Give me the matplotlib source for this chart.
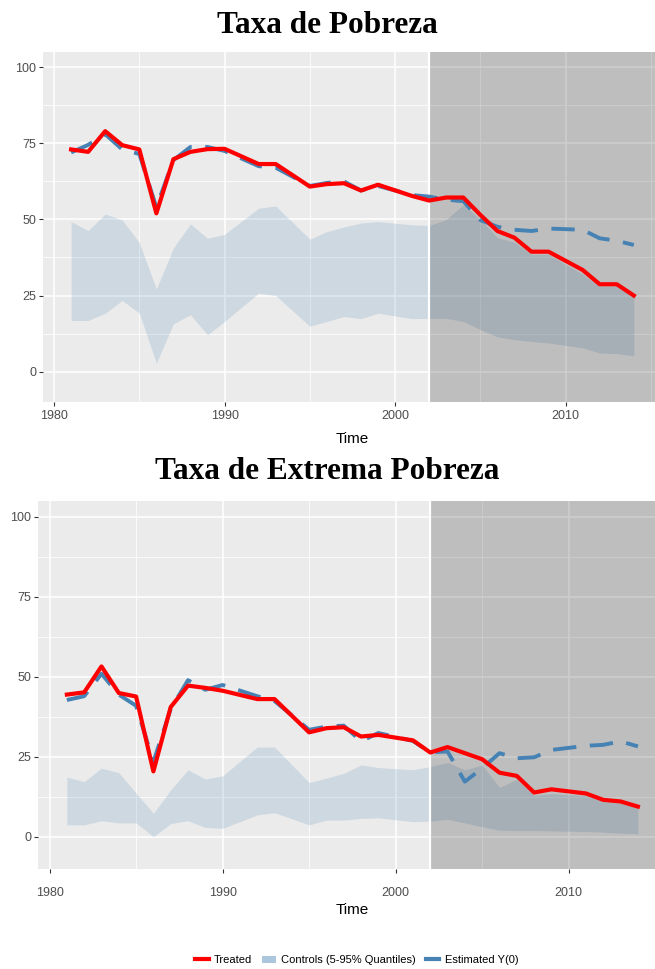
import numpy as np
import matplotlib
matplotlib.use('Agg')
import matplotlib.pyplot as plt
from matplotlib.lines import Line2D
from matplotlib.patches import Patch

plt.rcParams['font.family'] = ['Liberation Sans', 'DejaVu Sans']

# Anos (sem 1991, 1994, 2000 e 2010)
anos = [1981, 1982, 1983, 1984, 1985, 1986, 1987, 1988, 1989, 1990,
        1992, 1993, 1995, 1996, 1997, 1998, 1999,
        2001, 2002, 2003, 2004, 2005, 2006, 2007, 2008, 2009,
        2011, 2012, 2013, 2014]
ano_trat = 2002

# Taxa de Pobreza
pob_tratado = [73.0, 72.2, 79.0, 74.4, 73.0, 52.0, 69.8, 72.2, 73.1, 73.2,
               68.2, 68.2, 60.8, 61.6, 61.9, 59.5, 61.4,
               57.7, 56.2, 57.2, 57.2, 51.5, 46.2, 44.0, 39.4, 39.4,
               33.4, 28.7, 28.7, 25.0]
pob_estimado = [72.0, 74.5, 78.0, 73.0, 71.5, 54.0, 69.5, 73.8, 73.8, 72.5,
                67.5, 67.0, 61.0, 62.0, 62.5, 59.5, 61.0,
                58.0, 57.5, 56.5, 56.0, 49.8, 47.6, 46.6, 46.2, 47.0,
                46.6, 43.8, 43.0, 41.6]
pob_q95 = [49.3, 46.3, 51.8, 49.8, 42.4, 27.1, 40.6, 48.5, 43.8, 45.1,
           53.7, 54.4, 43.5, 46.0, 47.5, 48.8, 49.3,
           48.2, 48.0, 50.0, 54.8, 50.0, 44.0, 42.5, 38.5, 38.5,
           32.0, 28.0, 28.0, 25.0]
pob_q05 = [16.8, 16.8, 19.2, 23.4, 19.2, 2.8, 15.7, 18.7, 12.1, 16.5,
           25.8, 25.0, 14.9, 16.5, 18.1, 17.4, 19.2,
           17.4, 17.5, 17.5, 16.5, 13.8, 11.4, 10.5, 9.9, 9.4,
           7.8, 6.1, 5.9, 5.2]

# Taxa de Extrema Pobreza
ext_tratado = [44.5, 45.2, 53.3, 45.0, 43.9, 20.5, 40.6, 47.3, 46.6, 45.7,
               43.1, 43.1, 32.7, 34.0, 34.3, 31.4, 31.9,
               30.2, 26.4, 28.1, 26.2, 24.3, 20.1, 19.1, 13.9, 14.9,
               13.6, 11.6, 11.1, 9.5]
ext_estimado = [42.8, 44.0, 51.0, 44.5, 41.0, 23.5, 40.0, 49.0, 46.0, 47.5,
                44.0, 42.5, 33.5, 34.5, 34.8, 29.9, 32.5,
                30.0, 26.5, 26.7, 17.3, 21.5, 26.2, 24.6, 24.9, 27.2,
                28.5, 28.8, 29.9, 28.3]
ext_q95 = [18.7, 17.3, 21.5, 20.1, 13.7, 7.4, 14.7, 21.0, 18.1, 19.1,
           28.1, 28.1, 17.0, 18.4, 19.9, 22.5, 21.7,
           21.0, 22.0, 23.3, 21.0, 22.5, 15.5, 18.0, 13.0, 13.5,
           13.0, 11.0, 10.5, 9.0]
ext_q05 = [3.8, 3.8, 5.1, 4.4, 4.4, 0.1, 4.2, 5.1, 3.0, 2.7,
           6.9, 7.6, 3.8, 5.3, 5.3, 5.8, 6.0,
           4.8, 5.0, 5.5, 4.4, 3.2, 2.1, 2.0, 2.0, 1.9,
           1.7, 1.5, 1.2, 1.0]

x_ticks = [1980, 1990, 2000, 2010]
y_ticks = [0, 25, 50, 75, 100]

vermelho = '#FF0000'
azul = '#4682B4'


def painel(ax, tratado, estimado, q05, q95, pad_x, pad_lab):
    ax.set_facecolor('#EBEBEB')
    ax.set_axisbelow(True)
    ax.fill_between(anos, q05, q95, color=azul, alpha=0.18, lw=0, zorder=0.9)
    ax.axvspan(ano_trat, 2030, color='black', alpha=0.19, lw=0, zorder=1)
    ax.axvline(ano_trat, color='white', lw=1.6, zorder=1.5)
    ax.plot(anos, estimado, color=azul, lw=2.8, ls=(0, (6, 3.5)), zorder=2)
    ax.plot(anos, tratado, color=vermelho, lw=3.0, zorder=3)
    ax.set_xlim(1979.35, 2015.65)
    ax.set_ylim(-10, 105)
    ax.set_xticks(x_ticks)
    ax.set_xticks([1985, 1995, 2005, 2015], minor=True)
    ax.set_yticks(y_ticks)
    ax.set_yticks([12.5, 37.5, 62.5, 87.5], minor=True)
    ax.grid(which='major', color='white', lw=1.1)
    ax.grid(which='minor', color='white', lw=0.55)
    for s in ax.spines.values():
        s.set_visible(False)
    ax.tick_params(which='major', length=3, color='#333333', labelsize=9,
                   labelcolor='#4D4D4D', pad=2)
    ax.tick_params(axis='x', pad=pad_x)
    ax.tick_params(which='minor', length=0)
    ax.set_xlabel('Time', fontsize=11, labelpad=pad_lab)


fig = plt.figure(figsize=(6.55, 9.69), dpi=100)

ax1 = fig.add_axes([0.0656, 0.5851, 0.945, 0.3612])
painel(ax1, pob_tratado, pob_estimado, pob_q05, pob_q95, 3, 7)
fig.text(0.5, 0.974, 'Taxa de Pobreza', ha='center', va='center',
         family='Liberation Serif', weight='bold', fontsize=22.5)

ax2 = fig.add_axes([0.0585, 0.1032, 0.959, 0.3798])
painel(ax2, ext_tratado, ext_estimado, ext_q05, ext_q95, 10, 3)
fig.text(0.5, 0.513, 'Taxa de Extrema Pobreza', ha='center', va='center',
         family='Liberation Serif', weight='bold', fontsize=22.5)

handles = [Line2D([], [], color=vermelho, lw=3),
           Patch(facecolor=azul, alpha=0.45, lw=0),
           Line2D([], [], color=azul, lw=3)]
rotulos = ['Treated', 'Controls (5-95% Quantiles)', 'Estimated Y(0)']
fig.legend(handles, rotulos, loc='center', bbox_to_anchor=(0.545, 0.009),
           ncol=3, frameon=False, fontsize=8, handlelength=1.2,
           handletextpad=0.5, columnspacing=0.9)

fig.savefig('out.png', dpi=100)
